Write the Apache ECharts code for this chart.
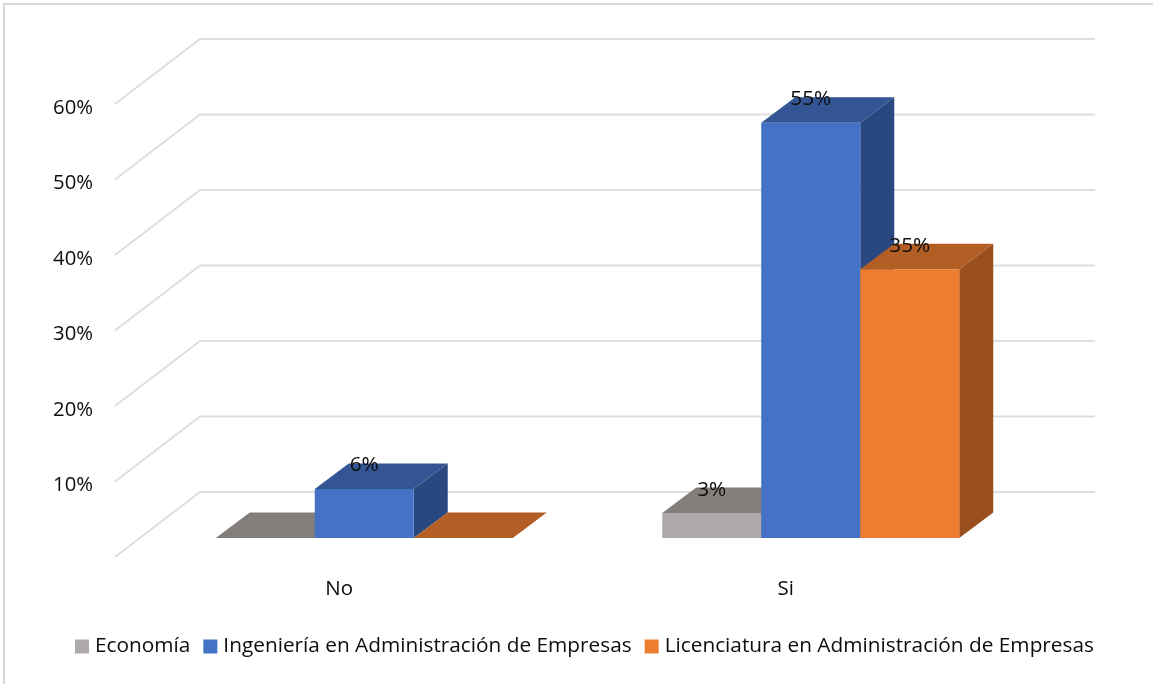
<!DOCTYPE html>
<html>
<head>
<meta charset="utf-8">
<style>html,body{margin:0;padding:0;background:#fff}#c{width:1153px;height:684px}</style>
<script src="https://cdn.jsdelivr.net/npm/echarts@6/dist/echarts.min.js"></script>
</head>
<body>
<div id="c"></div>
<script>
const categories = ['No', 'Si'];
const economia = [0, 3.3];
const ingenieria = [6.5, 55];
const licenciatura = [0, 35.6];
const economiaLabels = ['', '3%'];
const ingenieriaLabels = ['6%', '55%'];
const licenciaturaLabels = ['', '35%'];
const yTicks = [0, 10, 20, 30, 40, 50, 60];

const FONT = '"Open Sans", "Noto Sans", sans-serif';
const WALL_X = -1, WALL_Y = -4;
const WALL_DX = 85, WALL_DY = -65;
const BAR_OFF_X = 25, BAR_OFF_Y = -23;
const BAR_W = 99, BAR_DX = 34, BAR_DY = -25.5;

function barSeries(name, values, labels, slot, front, top, side) {
  return {
    name, type: 'custom', silent: true, z: 3 + slot,
    itemStyle: { color: front },
    data: values.map((v, i) => [categories[i], v]),
    renderItem(params, api) {
      const v = api.value(1);
      const base = api.coord([api.value(0), 0]);
      const high = api.coord([api.value(0), v]);
      const x0 = base[0] + BAR_OFF_X - BAR_W / 2 + slot * BAR_W;
      const x1 = x0 + BAR_W;
      const yb = base[1] + BAR_OFF_Y;
      const yt = high[1] + BAR_OFF_Y;
      const children = [];
      if (v > 0) {
        children.push({ type: 'polygon', shape: { points: [[x1, yb], [x1 + BAR_DX, yb + BAR_DY], [x1 + BAR_DX, yt + BAR_DY], [x1, yt]] }, style: { fill: side } });
      }
      children.push({ type: 'polygon', shape: { points: [[x0, yt], [x1, yt], [x1 + BAR_DX, yt + BAR_DY], [x0 + BAR_DX, yt + BAR_DY]] }, style: { fill: top } });
      if (v > 0) {
        children.push({ type: 'rect', shape: { x: x0, y: yt, width: BAR_W, height: yb - yt }, style: { fill: front } });
      }
      const label = labels[params.dataIndex];
      if (label) {
        children.push({ type: 'text', z2: 50, style: { text: label, x: x0 + BAR_W / 2, y: yt + BAR_DY + 2, textAlign: 'center', textVerticalAlign: 'middle', fill: '#0d0d0d', font: '20.8px ' + FONT } });
      }
      return { type: 'group', children };
    }
  };
}

const chart = echarts.init(document.getElementById('c'));
chart.setOption({
  animation: false,
  backgroundColor: '#ffffff',
  graphic: [{
    type: 'polyline', silent: true, z: -1,
    shape: { points: [[4, 684], [4, 4], [1153, 4]] },
    style: { fill: 'none', stroke: '#d9d9d9', lineWidth: 2 }
  }],
  legend: {
    data: ['Economía', 'Ingeniería en Administración de Empresas', 'Licenciatura en Administración de Empresas'],
    left: 75, top: 636, padding: 0,
    icon: 'rect', itemWidth: 14, itemHeight: 14, itemGap: 13,
    selectedMode: false,
    textStyle: { fontFamily: FONT, fontSize: 20.8, color: '#0d0d0d', padding: [0, 0, 0, 1] }
  },
  grid: { left: 116, top: 108, width: 893, height: 453, containLabel: false },
  xAxis: {
    type: 'category', data: categories,
    axisLine: { show: false }, axisTick: { show: false }, splitLine: { show: false },
    axisLabel: { margin: 18, fontFamily: FONT, fontSize: 20.5, color: '#0d0d0d' }
  },
  yAxis: {
    type: 'value', min: 0, max: 60, interval: 10,
    axisLine: { show: false }, axisTick: { show: false }, splitLine: { show: false },
    axisLabel: { margin: 23, fontFamily: FONT, fontSize: 20.3, color: '#0d0d0d',
      formatter: v => (v === 0 ? '' : v + '%') }
  },
  series: [
    {
      name: 'walls', type: 'custom', silent: true, z: 1,
      data: yTicks.map(t => [categories[0], t]),
      renderItem(params, api) {
        const y = api.coord([api.value(0), api.value(1)])[1] + WALL_Y;
        const left = params.coordSys.x + WALL_X;
        const right = left + params.coordSys.width + 2;
        return {
          type: 'polyline',
          shape: { points: [[left, y], [left + WALL_DX, y + WALL_DY], [right + WALL_DX, y + WALL_DY]] },
          style: { fill: 'none', stroke: '#dedede', lineWidth: 2 }
        };
      }
    },
    barSeries('Economía', economia, economiaLabels, -1, '#aeaaaa', '#827e7c', '#77736f'),
    barSeries('Ingeniería en Administración de Empresas', ingenieria, ingenieriaLabels, 0, '#4472c4', '#335593', '#2a4880'),
    barSeries('Licenciatura en Administración de Empresas', licenciatura, licenciaturaLabels, 1, '#ed7d31', '#b25e24', '#994f1e')
  ]
});
</script>
</body>
</html>
